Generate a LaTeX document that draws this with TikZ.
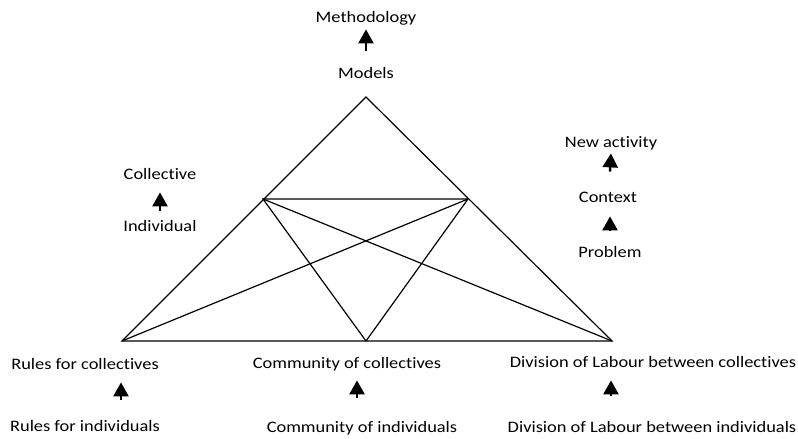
\documentclass[tikz,border=0pt]{standalone}
\usepackage{fontspec}
\setmainfont{Carlito}[FakeStretch=1.15,RawFeature={-liga;-clig;-calt;-dlig}]
\usetikzlibrary{arrows.meta,calc}

\tikzset{
  lbl/.style={font=\fontsize{8pt}{9.6pt}\selectfont, inner sep=0pt, anchor=base,
    text height=6pt, text depth=2pt},
  uparrow/.style={-{Triangle[width=7.5pt,length=7pt]}, line width=1.2pt},
  edge/.style={line width=0.6pt}
}

\begin{document}
\begin{tikzpicture}[x=0.5pt,y=-0.5pt]
  \useasboundingbox (0,0) rectangle (798,439);

  % triangle and inner lines
  \coordinate (A) at (366,97);
  \coordinate (L) at (122,341);
  \coordinate (R) at (612,341);
  \coordinate (M) at (366,341);
  \coordinate (P) at (263,199);
  \coordinate (Q) at (468,199);
  \draw[edge] (A) -- (L) -- (R) -- cycle;
  \draw[edge] (P) -- (Q) -- (M) -- cycle;
  \draw[edge] (P) -- (R);
  \draw[edge] (Q) -- (L);

  % labels
  \node[lbl] (meth) at (366,22) {Methodology};
  \node[lbl] (models) at (366,78) {Models};
  \node[lbl] (coll) at (160,179) {Collective};
  \node[lbl] (indiv) at (160,231) {Individual};
  \node[lbl] (newact) at (611,147) {New activity};
  \node[lbl] (context) at (608,202) {Context};
  \node[lbl] (problem) at (610,257) {Problem};
  \node[lbl] (rfc) at (85,369) {Rules for collectives};
  \node[lbl] (rfi) at (85,431) {Rules for individuals};
  \node[lbl] (coc) at (347,368) {Community of collectives};
  \node[lbl] (coi) at (362,432) {Community of individuals};
  \node[lbl] (dolc) at (653,367) {Division of Labour between collectives};
  \node[lbl] (doli) at (652,432) {Division of Labour between individuals};

  % arrows
  \draw[uparrow] ($(models.north)+(0,-15)$) -- ($(meth.south)+(0,3)$);
  \draw[uparrow] ($(indiv.north)+(0,-8)$) -- ($(coll.south)+(0,9)$);
  \draw[uparrow] ($(context.north)+(2,-18)$) -- ($(newact.south)+(0,2)$);
  \draw[uparrow] ($(problem.north)+(0,-15)$) -- ($(context.south)+(2,10)$);
  \draw[uparrow] ($(rfi.north -| L)+(-1,-19)$) -- ($(rfc.south -| L)+(-1,9)$);
  \draw[uparrow] ($(coi.north)+(-5,-22)$) -- ($(coi.north |- coc.south)+(-5,8)$);
  \draw[uparrow] ($(doli.north -| R)+(-1,-24)$) -- ($(dolc.south -| R)+(-1,9)$);
\end{tikzpicture}
\end{document}
